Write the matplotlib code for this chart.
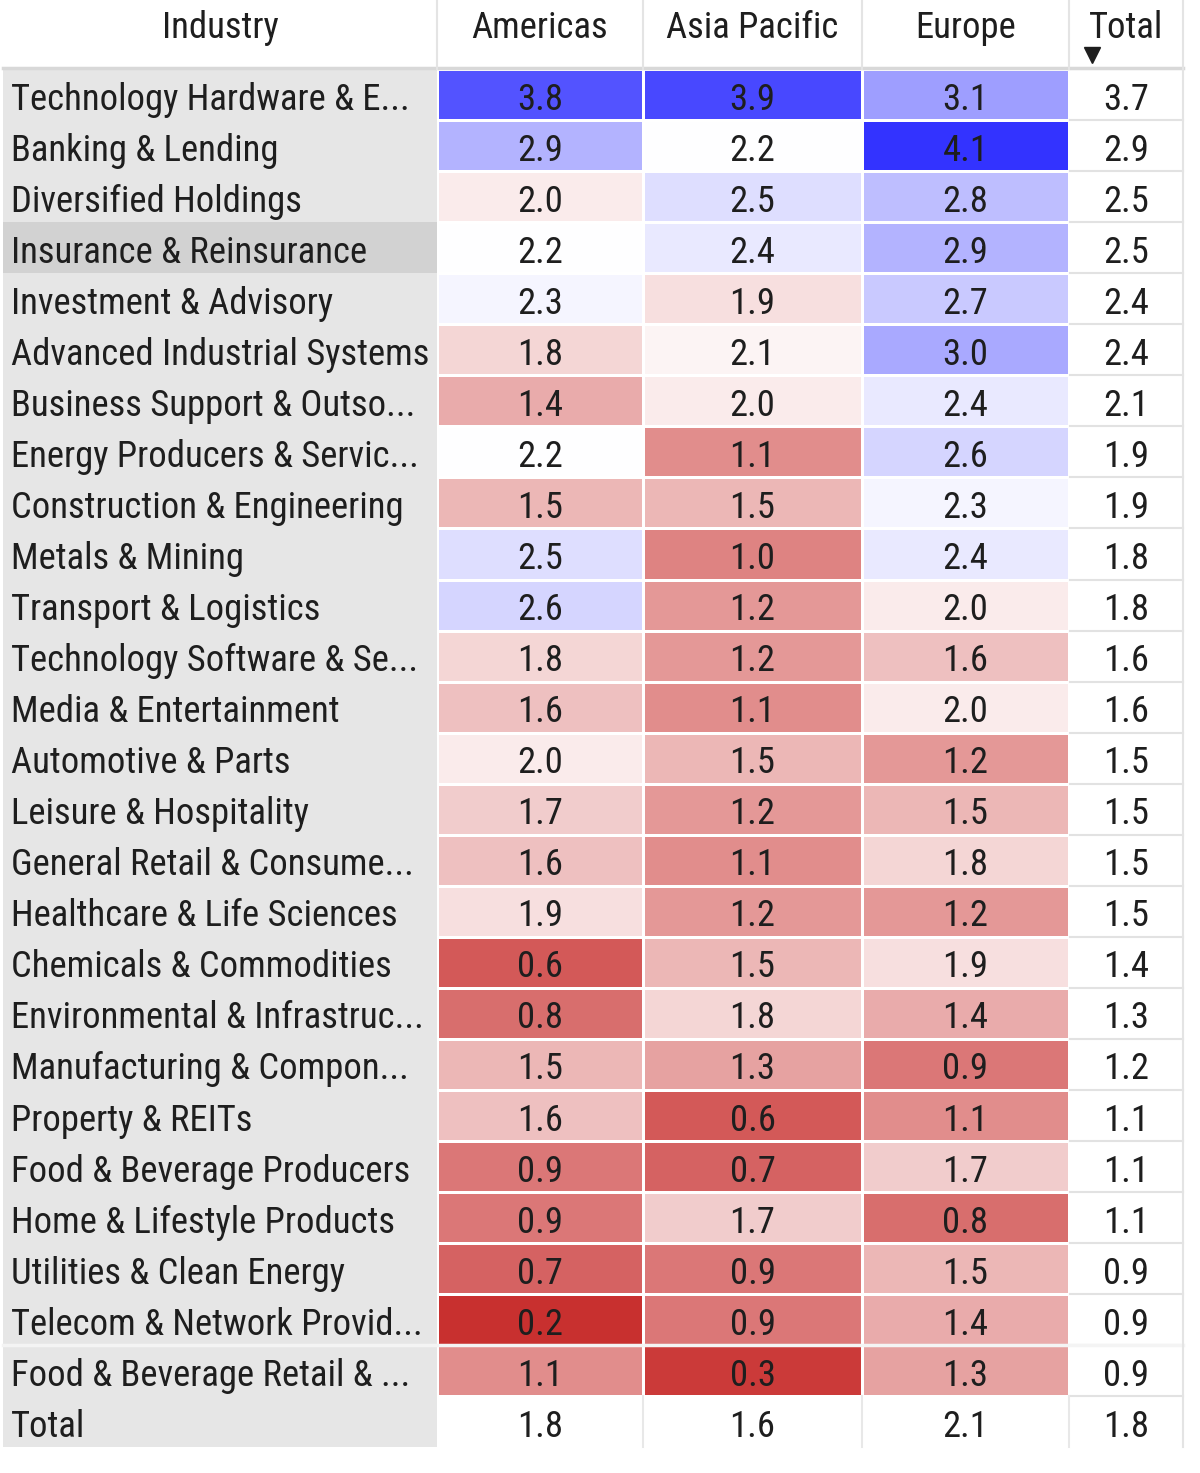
import numpy as np
import matplotlib
matplotlib.use("Agg")
import matplotlib.pyplot as plt
from matplotlib.colors import LinearSegmentedColormap, TwoSlopeNorm
from matplotlib import font_manager

industries = [
    "Technology Hardware & E...", "Banking & Lending", "Diversified Holdings",
    "Insurance & Reinsurance", "Investment & Advisory", "Advanced Industrial Systems",
    "Business Support & Outso...", "Energy Producers & Servic...", "Construction & Engineering",
    "Metals & Mining", "Transport & Logistics", "Technology Software & Se...",
    "Media & Entertainment", "Automotive & Parts", "Leisure & Hospitality",
    "General Retail & Consume...", "Healthcare & Life Sciences", "Chemicals & Commodities",
    "Environmental & Infrastruc...", "Manufacturing & Compon...", "Property & REITs",
    "Food & Beverage Producers", "Home & Lifestyle Products", "Utilities & Clean Energy",
    "Telecom & Network Provid...", "Food & Beverage Retail & ...",
]
regions = ["Americas", "Asia Pacific", "Europe"]
americas = [3.8, 2.9, 2.0, 2.2, 2.3, 1.8, 1.4, 2.2, 1.5, 2.5, 2.6, 1.8, 1.6,
            2.0, 1.7, 1.6, 1.9, 0.6, 0.8, 1.5, 1.6, 0.9, 0.9, 0.7, 0.2, 1.1]
asia_pacific = [3.9, 2.2, 2.5, 2.4, 1.9, 2.1, 2.0, 1.1, 1.5, 1.0, 1.2, 1.2, 1.1,
                1.5, 1.2, 1.1, 1.2, 1.5, 1.8, 1.3, 0.6, 0.7, 1.7, 0.9, 0.9, 0.3]
europe = [3.1, 4.1, 2.8, 2.9, 2.7, 3.0, 2.4, 2.6, 2.3, 2.4, 2.0, 1.6, 2.0,
          1.2, 1.5, 1.8, 1.2, 1.9, 1.4, 0.9, 1.1, 1.7, 0.8, 1.5, 1.4, 1.3]
total_col = [3.7, 2.9, 2.5, 2.5, 2.4, 2.4, 2.1, 1.9, 1.9, 1.8, 1.8, 1.6, 1.6,
             1.5, 1.5, 1.5, 1.5, 1.4, 1.3, 1.2, 1.1, 1.1, 1.1, 0.9, 0.9, 0.9]
total_row = [1.8, 1.6, 2.1, 1.8]
highlight = "Insurance & Reinsurance"

# pick the narrowest installed sans we can find
names = {f.name for f in font_manager.fontManager.ttflist}
fam = "Roboto"
stretch = "normal"
for cand in ["Roboto Condensed", "Liberation Sans Narrow", "Open Sans Condensed",
             "Noto Sans Condensed", "DejaVu Sans Condensed"]:
    if cand in names:
        fam = cand
        break
else:
    for f in font_manager.fontManager.ttflist:
        if f.name == "DejaVu Sans" and "condensed" in str(f.stretch) and f.weight in (400, "normal"):
            fam, stretch = "DejaVu Sans", "condensed"
            break
plt.rcParams["font.family"] = [fam, "DejaVu Sans"]

fig = plt.figure(figsize=(12, 14.73), dpi=100)
ax = fig.add_axes([0, 0, 1, 1])
ax.set_xlim(0, 1200)
ax.set_ylim(1473, 0)
ax.axis("off")

# fit font size so the widest label spans like the reference (~418 px)
renderer = fig.canvas.get_renderer()
probe = ax.text(0, 0, "Advanced Industrial Systems", fontsize=20, fontstretch=stretch)
w = probe.get_window_extent(renderer).width
probe.remove()
fs = min(30, 20 * 418 / w)

# layout in pixels
x_edges = np.array([437, 643, 862, 1069, 1183])
top = 69
rh = 51.05
n = len(industries)
y_edges = top + rh * np.arange(n + 2)
dy = 5  # text sits a little below the cell centre
txt = "#1e1e1e"
kw = dict(fontsize=fs, color=txt, fontstretch=stretch, va="center")

# heatmap cells
vals = np.array([americas, asia_pacific, europe]).T
cmap = LinearSegmentedColormap.from_list("rwb", ["#c8302f", "#ffffff", "#3333ff"])
norm = TwoSlopeNorm(vmin=0.2, vcenter=2.2, vmax=4.1)
ax.pcolormesh(x_edges[:4], y_edges[:n + 1], vals, cmap=cmap, norm=norm,
              edgecolor="white", linewidth=2.0)

# label column
for i, name in enumerate(industries + ["Total"]):
    bg = "#d2d2d2" if name == highlight else "#e6e6e6"
    ax.add_patch(plt.Rectangle((3, y_edges[i]), x_edges[0] - 3, rh, facecolor=bg,
                               edgecolor="none"))
    ax.text(11, y_edges[i] + rh / 2 + dy, name, ha="left", **kw)

# grid lines for white cells
for y in y_edges[1:n + 1]:
    ax.plot([x_edges[3] + 1, x_edges[4]], [y, y], color="#e2e2e2", lw=1.5)
ax.plot([3, x_edges[4]], [top - 1, top - 1], color="#d8d8d8", lw=2.5)
ax.plot([3, x_edges[4]], [y_edges[n - 1], y_edges[n - 1]], color="#f4f4f4", lw=2.5)
for x in x_edges:
    ax.plot([x, x], [0, top], color="#e4e4e4", lw=1.5)
for x in x_edges[1:4]:
    ax.plot([x, x], [y_edges[n], y_edges[n + 1]], color="#e8e8e8", lw=1.5)
ax.plot([x_edges[4], x_edges[4]], [top, y_edges[n + 1]], color="#e4e4e4", lw=1.5)

# values
centers = (x_edges[:-1] + x_edges[1:]) / 2
for i in range(n):
    row = list(vals[i]) + [total_col[i]]
    for j, v in enumerate(row):
        ax.text(centers[j], y_edges[i] + rh / 2 + dy, f"{v:.1f}", ha="center", **kw)
for j, v in enumerate(total_row):
    ax.text(centers[j], y_edges[n] + rh / 2 + dy, f"{v:.1f}", ha="center", **kw)

# header
ax.text((3 + x_edges[0]) / 2, 28, "Industry", ha="center", **kw)
for j, r in enumerate(regions):
    ax.text(centers[j], 28, r, ha="center", **kw)
ax.text(centers[3], 28, "Total", ha="center", **kw)
ax.plot([1092], [55], marker="v", markersize=11, color="#1e1e1e")

fig.savefig("out.png", dpi=100)
